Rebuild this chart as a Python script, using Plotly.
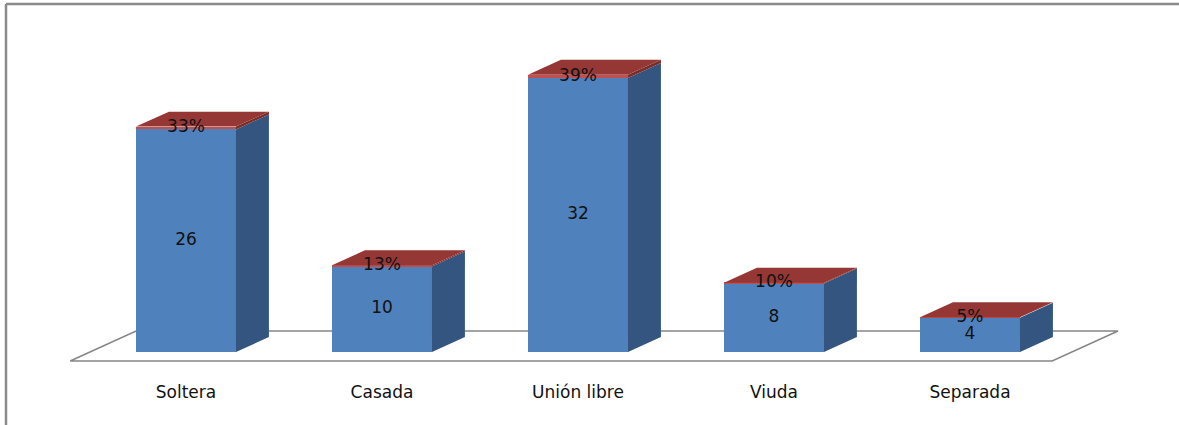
import plotly.graph_objects as go

# ---- data ----
categories = ["Soltera", "Casada", "Unión libre", "Viuda", "Separada"]
counts = [26, 10, 32, 8, 4]
percents = [0.33, 0.13, 0.39, 0.10, 0.05]

# ---- style / geometry ----
W, H = 1179, 425
BAR_W = 0.51
DX, DY = 0.168, 1.75          # 3D depth offset in data units
BLUE, BLUE_SIDE = "#4F81BD", "#34557F"
RED, RED_SIDE, RED_TOP = "#C0504D", "#7A2E2C", "#953735"
GRID = "#868686"
FONT = "DejaVu Sans"
LABEL_SIZE = 17

fig = go.Figure()

xs = list(range(len(categories)))

# front faces
fig.add_trace(go.Bar(x=xs, y=counts, width=BAR_W, marker=dict(color=BLUE, line=dict(width=0)),
                     hoverinfo="skip", showlegend=False))
fig.add_trace(go.Bar(x=xs, y=percents, width=BAR_W, marker=dict(color=RED, line=dict(width=0)),
                     hoverinfo="skip", showlegend=False))

# side and top faces
for i, (c, p) in enumerate(zip(counts, percents)):
    x1 = i + BAR_W / 2
    x0 = i - BAR_W / 2
    for b, t, col in [(0, c, BLUE_SIDE), (c, c + p, RED_SIDE)]:
        fig.add_trace(go.Scatter(x=[x1, x1 + DX, x1 + DX, x1, x1],
                                 y=[b, b + DY, t + DY, t, b],
                                 fill="toself", fillcolor=col, mode="lines",
                                 line=dict(width=0), hoverinfo="skip", showlegend=False))
    top = c + p
    fig.add_trace(go.Scatter(x=[x0, x1, x1 + DX, x0 + DX, x0],
                             y=[top, top, top + DY, top + DY, top],
                             fill="toself", fillcolor=RED_TOP, mode="lines",
                             line=dict(width=0), hoverinfo="skip", showlegend=False))

# data labels
fig.add_trace(go.Scatter(x=xs, y=[c / 2 for c in counts], mode="text",
                         text=[str(c) for c in counts],
                         textfont=dict(family=FONT, size=LABEL_SIZE, color="#111111"),
                         hoverinfo="skip", showlegend=False))
fig.add_trace(go.Scatter(x=xs, y=[c + p / 2 for c, p in zip(counts, percents)], mode="text",
                         text=[f"{round(p * 100)}%" for p in percents],
                         textfont=dict(family=FONT, size=LABEL_SIZE, color="#111111"),
                         hoverinfo="skip", showlegend=False))

# floor (parallelogram) drawn below bars
n = len(categories)
fl, fr = -0.49, n - 1 + 0.52
f_front, f_back = -0.6, 1.4
pts = [(fl + f_front * DX, f_front * DY), (fr + f_front * DX, f_front * DY),
       (fr + f_back * DX, f_back * DY), (fl + f_back * DX, f_back * DY)]
path = "M " + " L ".join(f"{x},{y}" for x, y in pts) + " Z"

BOTTOM_MARGIN = 55
plot_h = H - BOTTOM_MARGIN
shapes = [
    dict(type="path", path=path, xref="x", yref="y", layer="below",
         fillcolor="white", line=dict(color=GRID, width=1.5)),
    # outer frame (top and left)
    dict(type="line", xref="paper", yref="paper", x0=6 / W, x1=1.0,
         y0=(plot_h - 4) / plot_h, y1=(plot_h - 4) / plot_h, line=dict(color="#8a8a8a", width=2.5)),
    dict(type="line", xref="paper", yref="paper", x0=6 / W, x1=6 / W,
         y0=(plot_h - 4) / plot_h, y1=(plot_h - H) / plot_h, line=dict(color="#8a8a8a", width=2.5)),
]

scale = 8.56
fig.update_layout(
    width=W, height=H,
    margin=dict(l=0, r=0, t=0, b=BOTTOM_MARGIN),
    barmode="stack", bargap=0,
    plot_bgcolor="white", paper_bgcolor="white",
    shapes=shapes,
    xaxis=dict(range=[-186 / 196, (W - 186) / 196], tickvals=xs, ticktext=categories,
               showgrid=False, zeroline=False, showline=False, ticks="",
               tickfont=dict(family=FONT, size=LABEL_SIZE, color="#111111"),
               ticklabelstandoff=10),
    yaxis=dict(range=[-(plot_h - 352) / scale, 352 / scale], showgrid=False, zeroline=False,
               showline=False, showticklabels=False, ticks=""),
)

fig.write_html("out.html", config={"displayModeBar": False},
               post_script="document.body.style.margin='0px';document.body.style.overflow='hidden';")
